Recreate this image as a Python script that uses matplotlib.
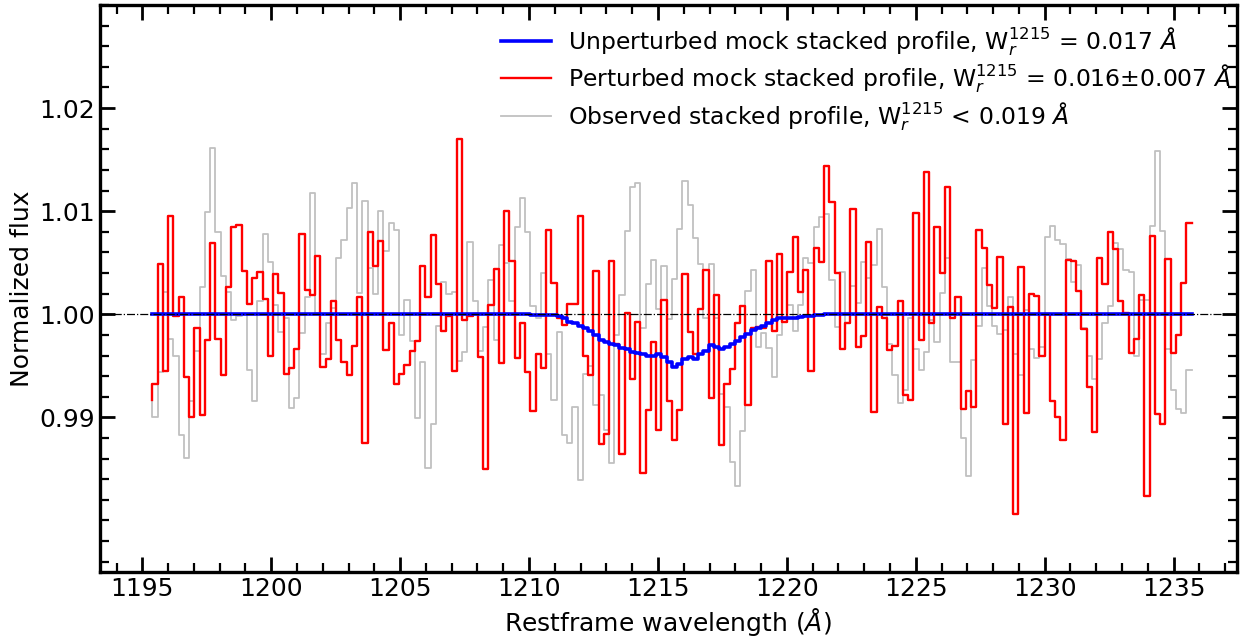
import numpy as np
import matplotlib
matplotlib.use('Agg')
import matplotlib.pyplot as plt
from matplotlib.ticker import MultipleLocator, FixedLocator, FormatStrFormatter

# Stacked Lya profiles, binned on a common restframe grid (Angstrom)
wave_start, wave_end = 1195.39, 1235.70

red_flux = [
    0.9917, 0.9932, 1.0049, 0.9945, 1.0095, 0.9998, 1.0017, 0.9939, 0.9900, 0.9987,
    0.9902, 0.9975, 1.0069, 0.9976, 0.9941, 1.0026, 1.0085, 1.0087, 1.0042, 1.0010,
    1.0035, 1.0041, 1.0015, 0.9960, 1.0039, 1.0021, 0.9942, 0.9948, 0.9966, 1.0078,
    1.0024, 1.0019, 1.0057, 0.9949, 0.9957, 1.0013, 0.9975, 0.9954, 0.9941, 0.9969,
    1.0017, 0.9875, 1.0080, 1.0047, 1.0071, 0.9965, 0.9992, 0.9932, 0.9942, 0.9951,
    0.9964, 0.9974, 1.0047, 1.0017, 1.0077, 1.0029, 0.9984, 0.9998, 0.9945, 1.0170,
    0.9994, 0.9998, 1.0000, 0.9959, 0.9850, 1.0009, 1.0044, 0.9953, 1.0100, 1.0052,
    0.9958, 0.9992, 0.9944, 0.9906, 0.9961, 0.9948, 1.0082, 1.0030, 0.9996, 0.9990,
    1.0010, 1.0010, 1.0095, 0.9960, 0.9941, 1.0042, 0.9874, 0.9884, 1.0052, 0.9971,
    0.9864, 1.0001, 0.9937, 0.9993, 0.9846, 0.9907, 0.9973, 0.9888, 1.0014, 0.9916,
    0.9878, 0.9907, 1.0039, 0.9983, 0.9961, 1.0005, 1.0043, 0.9919, 1.0019, 0.9873,
    0.9932, 0.9947, 0.9992, 1.0008, 0.9912, 0.9987, 0.9988, 0.9987, 1.0052, 0.9984,
    1.0058, 0.9993, 1.0041, 1.0075, 1.0022, 1.0043, 0.9945, 1.0064, 1.0051, 1.0144,
    1.0109, 1.0040, 0.9966, 0.9992, 1.0102, 0.9968, 0.9979, 1.0070, 0.9905, 1.0007,
    0.9996, 0.9965, 0.9969, 1.0013, 0.9922, 0.9917, 1.0098, 0.9975, 1.0138, 0.9992,
    1.0085, 1.0040, 1.0123, 0.9996, 1.0017, 0.9908, 0.9926, 0.9910, 1.0082, 1.0064,
    1.0028, 1.0006, 1.0056, 0.9894, 1.0007, 0.9806, 1.0046, 0.9904, 1.0020, 1.0018,
    0.9960, 1.0000, 0.9916, 0.9900, 0.9878, 1.0053, 1.0052, 1.0023, 0.9986, 0.9929,
    0.9886, 1.0055, 1.0029, 1.0080, 1.0063, 1.0013, 1.0001, 0.9962, 0.9976, 1.0019,
    0.9824, 1.0076, 0.9903, 0.9894, 1.0054, 0.9962, 0.9980, 1.0030, 1.0089,
]

gray_flux = [
    0.9917, 0.9900, 0.9944, 1.0022, 0.9976, 0.9960, 0.9883, 0.9861, 0.9916, 0.9964,
    1.0026, 1.0099, 1.0161, 1.0080, 1.0037, 1.0022, 0.9994, 0.9998, 1.0000, 0.9946,
    0.9916, 1.0013, 1.0078, 1.0051, 1.0009, 0.9983, 0.9996, 0.9909, 0.9919, 0.9982,
    1.0017, 1.0118, 1.0001, 0.9961, 0.9992, 1.0006, 1.0055, 1.0072, 1.0103, 1.0127,
    1.0021, 1.0110, 1.0045, 1.0020, 1.0100, 1.0061, 1.0089, 1.0082, 0.9980, 1.0014,
    0.9974, 0.9899, 0.9954, 0.9851, 0.9894, 0.9989, 1.0031, 1.0020, 1.0022, 0.9955,
    0.9963, 1.0070, 1.0013, 0.9964, 0.9988, 1.0033, 0.9975, 1.0067, 1.0050, 1.0013,
    1.0085, 1.0113, 1.0080, 1.0008, 0.9996, 1.0040, 0.9961, 0.9917, 0.9983, 0.9883,
    0.9875, 0.9910, 0.9839, 0.9942, 0.9950, 0.9912, 0.9922, 0.9888, 0.9856, 0.9980,
    1.0019, 1.0081, 1.0123, 1.0127, 0.9987, 1.0029, 1.0053, 1.0005, 1.0047, 0.9995,
    1.0034, 1.0083, 1.0129, 1.0106, 1.0074, 1.0049, 0.9996, 1.0049, 0.9996, 0.9923,
    0.9910, 0.9857, 0.9833, 0.9887, 1.0023, 1.0043, 0.9968, 0.9982, 0.9967, 0.9939,
    0.9980, 0.9993, 1.0009, 0.9984, 1.0009, 1.0055, 1.0050, 1.0085, 1.0094, 1.0097,
    1.0033, 0.9988, 1.0041, 0.9992, 1.0027, 1.0011, 1.0051, 1.0035, 1.0048, 1.0083,
    1.0026, 0.9971, 0.9941, 0.9914, 0.9927, 0.9996, 0.9966, 0.9946, 0.9963, 0.9994,
    0.9973, 1.0021, 1.0055, 0.9954, 0.9954, 0.9880, 0.9843, 0.9956, 0.9989, 1.0045,
    1.0008, 0.9989, 0.9981, 0.9985, 1.0017, 0.9961, 0.9941, 1.0004, 0.9966, 0.9958,
    0.9968, 1.0075, 1.0086, 1.0072, 1.0068, 1.0054, 1.0031, 1.0048, 0.9987, 0.9960,
    0.9937, 0.9957, 0.9992, 1.0008, 1.0069, 1.0063, 1.0043, 1.0041, 0.9960, 1.0014,
    1.0014, 1.0086, 1.0158, 1.0081, 0.9966, 0.9927, 0.9908, 0.9904, 0.9946,
]

# noiseless mock: flat continuum with a shallow absorption around 1215.7
blue_flux = [1.0] * 72 + [
    1.0000, 0.9999, 0.9999, 0.9999, 0.9999, 0.9999, 0.9998, 0.9996, 0.9993, 0.9992,
    0.9989, 0.9987, 0.9984, 0.9980, 0.9975, 0.9973, 0.9971, 0.9970, 0.9967, 0.9966,
    0.9963, 0.9962, 0.9961, 0.9960, 0.9960, 0.9961, 0.9959, 0.9954, 0.9949, 0.9952,
    0.9957, 0.9959, 0.9957, 0.9961, 0.9964, 0.9970, 0.9968, 0.9966, 0.9968, 0.9971,
    0.9974, 0.9978, 0.9981, 0.9985, 0.9987, 0.9989, 0.9992, 0.9994, 0.9996, 0.9996,
    0.9996, 0.9996, 0.9997, 0.9998, 0.9998, 0.9999, 0.9999,
] + [1.0] * 70

labels = [
    r'Unperturbed mock stacked profile, W$_r^{1215}$ = 0.017 $\AA$',
    r'Perturbed mock stacked profile, W$_r^{1215}$ = 0.016$\pm$0.007 $\AA$',
    r'Observed stacked profile, W$_r^{1215}$ < 0.019 $\AA$',
]
flux_ticks = [0.99, 1.00, 1.01, 1.02]

wave = np.linspace(wave_start, wave_end, len(red_flux))

fig = plt.figure(figsize=(12.58, 6.41), dpi=100)
ax = fig.add_axes([0.0793, 0.1076, 0.9038, 0.8846])

l_obs, = ax.step(wave, gray_flux, where='pre', color='#c0c0c0', lw=1.3, zorder=2)
l_pert, = ax.step(wave, red_flux, where='pre', color='red', lw=1.7, zorder=3)
l_mock, = ax.step(wave, blue_flux, where='pre', color='blue', lw=2.6, zorder=4)
ax.axhline(1.0, color='k', ls='-.', lw=0.9, zorder=5)

ax.set_xlim(1193.35, 1237.45)
ax.set_ylim(0.975, 1.03)
ax.xaxis.set_major_locator(MultipleLocator(5))
ax.xaxis.set_minor_locator(MultipleLocator(1))
ax.yaxis.set_major_locator(FixedLocator(flux_ticks))
ax.yaxis.set_minor_locator(MultipleLocator(0.002))
ax.yaxis.set_major_formatter(FormatStrFormatter('%.2f'))

ax.tick_params(which='both', direction='in', top=True, right=True, labelsize=18)
ax.tick_params(which='major', length=11, width=2)
ax.tick_params(which='minor', length=6.5, width=1.6)
for sp in ax.spines.values():
    sp.set_linewidth(2.4)

ax.set_xlabel(r'Restframe wavelength ($\AA$)', fontsize=18)
ax.set_ylabel('Normalized flux', fontsize=18)

ax.legend([l_mock, l_pert, l_obs], labels, loc='upper right', frameon=False,
          fontsize=16.9, handlelength=2.13, handletextpad=0.72, labelspacing=0.22,
          borderaxespad=0.0, borderpad=0.25, bbox_to_anchor=(1.0, 0.975))

fig.savefig('out.png', dpi=100)
